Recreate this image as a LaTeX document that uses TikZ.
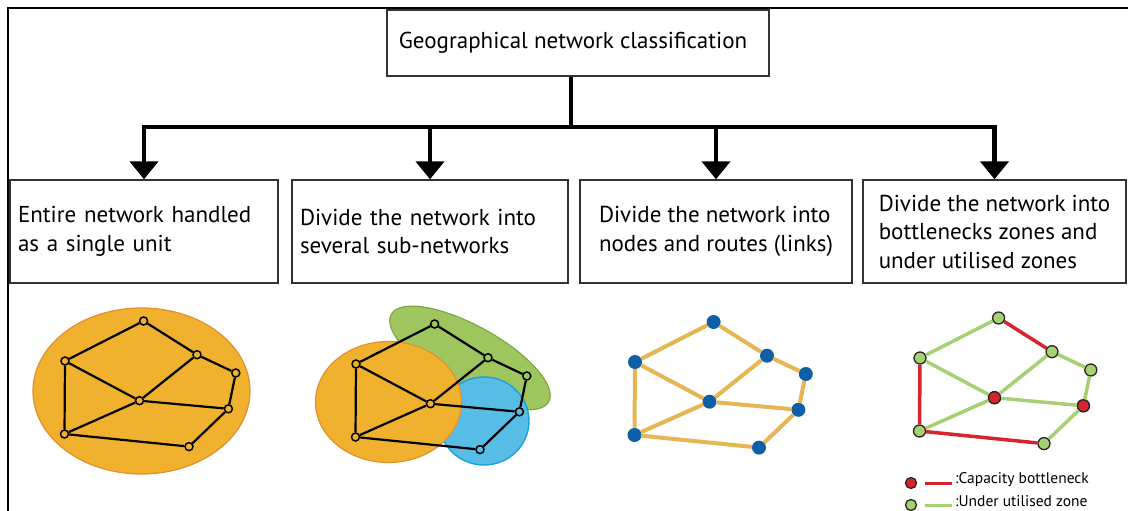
\documentclass[tikz,border=0pt]{standalone}
\usepackage{fontspec}
\setmainfont{PT Sans}
\usepackage{tikz}
\usetikzlibrary{positioning}
\usetikzlibrary{arrows.meta}

\definecolor{zoneorange}{HTML}{F0B22E}
\definecolor{zoneorangeline}{HTML}{E58F2C}
\definecolor{zoneblue}{HTML}{58BDE5}
\definecolor{zoneblueline}{HTML}{1A9FD9}
\definecolor{zonegreen}{HTML}{9FC65E}
\definecolor{zonegreenline}{HTML}{7DA647}
\definecolor{linkgold}{HTML}{E7B551}
\definecolor{dotblue}{HTML}{0F5FA6}
\definecolor{lowgreen}{HTML}{A7D072}
\definecolor{bottlered}{HTML}{D6252F}

\tikzset{
    classbox/.style={draw=black!80, line width=1.4pt, minimum height=103pt, inner sep=8pt, align=left, font=\fontsize{23}{28.5}\selectfont},
    branch/.style={draw, line width=4.5pt, -{Triangle[width=28pt, length=18pt]}},
    ringdot/.style={circle, draw, line width=1.5pt, minimum size=8pt, inner sep=0pt},
    bluedot/.style={circle, fill=dotblue, minimum size=14pt, inner sep=0pt},
    loaddot/.style={circle, draw=black!85, line width=1.3pt, minimum size=12pt, inner sep=0pt},
    keytext/.style={anchor=west, inner sep=0pt, font=\fontsize{15.5}{18}\selectfont},
}

% the eight nodes of one network, placed at a shift
\newcommand{\netnodes}[3]{%
    \begin{scope}[shift={#2}]
        \node[#3] (#1a) at (143.6,321) {};
        \node[#3] (#1b) at (65,361) {};
        \node[#3] (#1c) at (139.5,400.7) {};
        \node[#3] (#1d) at (197,354.7) {};
        \node[#3] (#1e) at (235.8,373) {};
        \node[#3] (#1f) at (228.4,408.8) {};
        \node[#3] (#1g) at (64.5,434) {};
        \node[#3] (#1h) at (189,446.6) {};
    \end{scope}}

\newcommand{\netlinks}[2]{%
    \foreach \u/\v in {a/b,a/d,d/e,e/f,f/h,h/g,g/b,b/c,c/d,c/g,c/f}
        \path[draw, #2] (#1\u) -- (#1\v);}

\begin{document}
\begin{tikzpicture}[x=1pt, y=-1pt]

    \useasboundingbox (0,0) rectangle (1128,511);

    % draw the outer frame
    \path[draw, line width=2pt] (8,511) -- (8,8) -- (1128,8);

    \node[draw=black!80, line width=1.4pt, minimum width=382pt, minimum height=66pt, font=\fontsize{23}{28}\selectfont] (title) at (578,43) {Geographical network classification\hspace*{10pt}};

    \node[classbox, minimum width=268pt, text width=252pt] (box1) at (144,231.5) {Entire network handled\\as a single unit};
    \node[classbox, minimum width=276pt, text width=260pt] (box2) at (430,231.5) {Divide the network into\\several sub-networks};
    \node[classbox, minimum width=272pt] (box3) at (716,231.5) {Divide the network into\\nodes and routes (links)};
    \node[classbox, minimum width=263pt] (box4) at (994.5,231.5) {Divide the network into\\bottlenecks zones and\\under utilised zones};

    % draw the tree
    \coordinate (split) at (571,127);
    \path[draw, line width=4.5pt] (title.south -| split) -- (split);
    \path[branch] (split) -| (box1.north);
    \path[branch] (split) -| (box4.north);
    \path[branch] (box2.north |- split) -- (box2.north);
    \path[branch] (box3.north |- split) -- (box3.north);

    % single unit
    \path[draw=zoneorangeline, fill=zoneorange, line width=1.2pt] (141.5,391) ellipse [x radius=108.5pt, y radius=83pt];
    \netnodes{u}{(0,0)}{ringdot}
    \netlinks{u}{line width=2.2pt}

    % sub-networks
    \path[draw=zonegreenline, fill=zonegreen, line width=1.2pt, rotate around={-29:(470,358)}] (470,358) ellipse [x radius=90pt, y radius=32pt];
    \path[draw=zoneblueline, fill=zoneblue, line width=1.4pt] (484,421) ellipse [x radius=45pt, y radius=44pt];
    \path[draw=zoneorangeline, fill=zoneorange, line width=1.2pt] (388.5,402) ellipse [x radius=73pt, y radius=60.5pt];
    \netnodes{s}{(291,3)}{ringdot}
    \netlinks{s}{line width=2.2pt}

    % nodes and routes
    \netnodes{r}{(570,1)}{bluedot}
    \netlinks{r}{linkgold, line width=4pt}

    % bottlenecks and under utilised zones
    \netnodes{z}{(855,-3)}{loaddot, fill=lowgreen}
    \node[loaddot, fill=bottlered] at (zc) {};
    \node[loaddot, fill=bottlered] at (zf) {};
    \foreach \u/\v/\c in {a/b/lowgreen,a/d/bottlered,d/e/lowgreen,e/f/lowgreen,f/h/lowgreen,h/g/bottlered,g/b/bottlered,b/c/lowgreen,c/d/lowgreen,c/g/lowgreen,c/f/lowgreen}
        \path[draw=\c, line width=3.5pt] (z\u) -- (z\v);

    % legend
    \node[loaddot, fill=bottlered, minimum size=11pt] (keyred) at (911,483) {};
    \coordinate (keyreds) at (925,483);
    \coordinate (keyrede) at (952,483);
    \path[draw=bottlered, line width=3pt] (keyreds) -- (keyrede);
    \node[keytext] (keyredtext) at (955,480) {:Capacity bottleneck};

    \node[loaddot, fill=lowgreen, minimum size=11pt] (keygreen) at (911,505) {};
    \coordinate (keygreens) at (925,505);
    \coordinate (keygreene) at (952,505);
    \path[draw=lowgreen, line width=3pt] (keygreens) -- (keygreene);
    \node[keytext] (keygreentext) at (955,501) {:Under utilised zone};

\end{tikzpicture}
\end{document}
